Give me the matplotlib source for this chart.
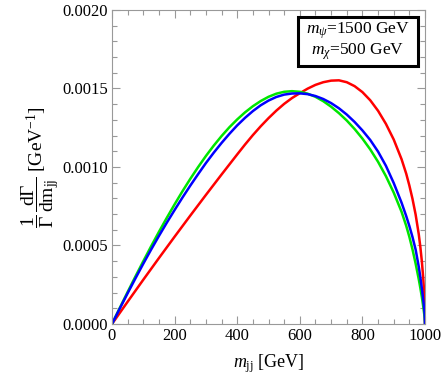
import numpy as np
import matplotlib
matplotlib.use("Agg")
import matplotlib.pyplot as plt
from matplotlib.patches import Rectangle
from matplotlib.ticker import MultipleLocator

plt.rcParams['font.family'] = ['Liberation Serif', 'DejaVu Serif']
plt.rcParams['mathtext.fontset'] = 'custom'
plt.rcParams['mathtext.rm'] = 'Liberation Serif'
plt.rcParams['mathtext.it'] = 'Liberation Serif:italic'

# m_jj grid (GeV)
m_jj = [0, 25, 50, 75, 100, 125, 150, 175, 200, 225, 250, 275, 300, 325, 350,
        375, 400, 425, 450, 475, 500, 525, 550, 575, 600, 625, 650, 675, 700,
        725, 750, 775, 800, 825, 850, 875, 900, 925, 940, 950, 960, 970, 980,
        985, 990, 994, 997, 999, 1000]

# 1/Gamma dGamma/dm_jj [GeV^-1]
red = [0, 0.000071, 0.000142, 0.000212, 0.000282, 0.000351, 0.000420, 0.000488,
       0.000556, 0.000623, 0.000690, 0.000756, 0.000822, 0.000887, 0.000952,
       0.001016, 0.001080, 0.001143, 0.001203, 0.001259, 0.001311, 0.001359,
       0.001402, 0.001439, 0.001470, 0.001499, 0.001523, 0.001540, 0.001550,
       0.001552, 0.001540, 0.001515, 0.001477, 0.001425, 0.001358, 0.001275,
       0.001175, 0.001050, 0.000957, 0.000882, 0.000797, 0.000697, 0.000572,
       0.000492, 0.000397, 0.000300, 0.000210, 0.000120, 0]
green = [0, 0.000103, 0.000204, 0.000303, 0.000400, 0.000495, 0.000587, 0.000676,
         0.000762, 0.000845, 0.000924, 0.000999, 0.001070, 0.001136, 0.001197,
         0.001253, 0.001303, 0.001348, 0.001387, 0.001420, 0.001447, 0.001467,
         0.001479, 0.001483, 0.001479, 0.001467, 0.001447, 0.001419, 0.001384,
         0.001343, 0.001296, 0.001242, 0.001181, 0.001112, 0.001033, 0.000942,
         0.000837, 0.000715, 0.000625, 0.000555, 0.000475, 0.000385, 0.000285,
         0.000230, 0.000170, 0.000115, 0.000070, 0.000038, 0]
blue = [0, 0.000099, 0.000196, 0.000291, 0.000384, 0.000474, 0.000561, 0.000645,
        0.000726, 0.000805, 0.000881, 0.000954, 0.001025, 0.001091, 0.001153,
        0.001211, 0.001265, 0.001313, 0.001356, 0.001393, 0.001423, 0.001446,
        0.001461, 0.001468, 0.001469, 0.001464, 0.001452, 0.001433, 0.001407,
        0.001374, 0.001334, 0.001287, 0.001233, 0.001172, 0.001098, 0.001008,
        0.000898, 0.000773, 0.000687, 0.000624, 0.000554, 0.000474, 0.000365,
        0.000300, 0.000225, 0.000160, 0.000105, 0.000060, 0]

fig = plt.figure(figsize=(4.43, 3.80), dpi=100)
ax = fig.add_axes([0.2528, 0.1474, 0.9594 - 0.2528, 0.9737 - 0.1474])

ax.plot(m_jj, red, color=(1, 0, 0), lw=1.8)
ax.plot(m_jj, green, color=(0, 0.9, 0), lw=1.8)
ax.plot(m_jj, blue, color=(0, 0, 1), lw=1.8)

ax.set_xlim(0, 1000)
ax.set_ylim(0, 0.002)
ax.xaxis.set_major_locator(MultipleLocator(200))
ax.xaxis.set_minor_locator(MultipleLocator(50))
ax.yaxis.set_major_locator(MultipleLocator(0.0005))
ax.yaxis.set_minor_locator(MultipleLocator(0.0001))
ax.yaxis.set_major_formatter(plt.FuncFormatter(lambda v, p: f'{v:.4f}'))

for s in ax.spines.values():
    s.set_color('#999999')
    s.set_linewidth(0.8)
ax.tick_params(which='both', direction='in', top=True, right=True,
               color='#999999', labelsize=12, width=0.8)
ax.tick_params(which='major', length=6, pad=3)
ax.tick_params(which='minor', length=3.5)

ax.set_xlabel(r'$m_{\mathrm{jj}}$ [GeV]', fontsize=13, labelpad=6)
ax.set_ylabel(r'$\dfrac{1}{\Gamma}\,\dfrac{\mathrm{d}\Gamma}{\mathrm{dm_{jj}}}$ [GeV$^{-1}$]',
              fontsize=14, labelpad=1)

# boxed mass label
ax.add_patch(Rectangle((0.594, 0.822), 0.384, 0.156, transform=ax.transAxes,
                       fc='white', ec='black', lw=2.2, zorder=5))
ax.text(0.786, 0.9, '$m_{\\psi}$=1500 GeV\n$m_{\\chi}$=500 GeV',
        transform=ax.transAxes, ha='center', va='center', fontsize=12.5,
        linespacing=1.05, zorder=6)

fig.savefig('out.png', dpi=100)
